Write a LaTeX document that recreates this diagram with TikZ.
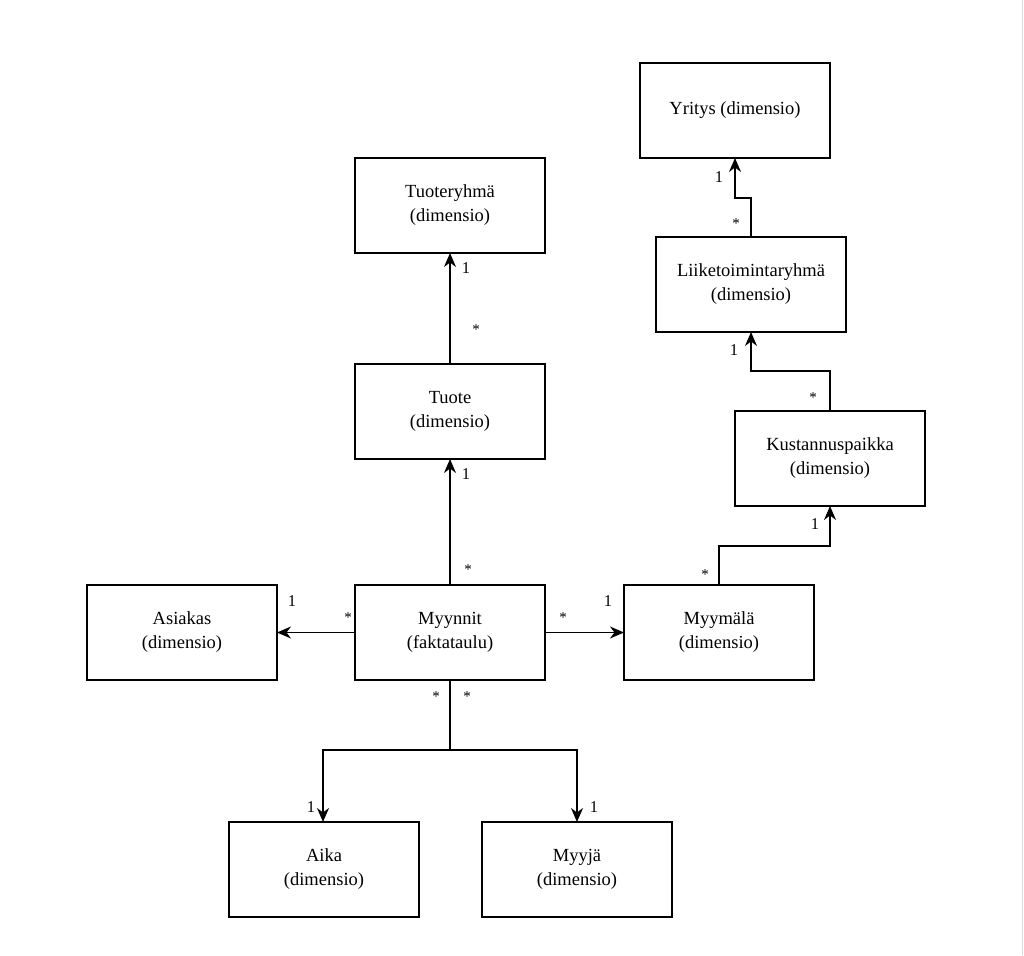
\documentclass[tikz,border=0pt]{standalone}
\usepackage{fontspec}
\setmainfont{Liberation Serif}
\usetikzlibrary{arrows.meta}
\begin{document}
\begin{tikzpicture}[x=1pt,y=-1pt,
  box/.style={draw,line width=1.6pt,minimum width=190pt,minimum height=95pt,inner sep=0pt,outer sep=0pt,align=center,font=\fontsize{18.5}{24}\selectfont,anchor=north west},
  conn/.style={line width=1.6pt,-{Stealth[length=14pt,width=12pt,inset=4.5pt]}},
  lbl/.style={font=\fontsize{16.5}{18}\selectfont,inner sep=0pt},
  star/.style={font=\fontsize{15}{16}\selectfont,inner sep=0pt}]
\useasboundingbox (0,0) rectangle (1024,955);
\fill[white] (0,0) rectangle (1024,955);
\draw[black!15,line width=1pt] (1022.5,0) -- (1022.5,955);
\node[box] (yri) at (640,63) {Yritys (dimensio)};
\node[box] (tr) at (355,158) {Tuoteryhmä\\(dimensio)};
\node[box] (lt) at (656,237) {Liiketoimintaryhmä\\(dimensio)};
\node[box] (tu) at (355,364) {Tuote\\(dimensio)};
\node[box] (ku) at (735,411) {Kustannuspaikka\\(dimensio)};
\node[box] (as) at (87,585) {Asiakas\\(dimensio)};
\node[box] (my) at (355,585) {Myynnit\\(faktataulu)};
\node[box] (mm) at (624,585) {Myymälä\\(dimensio)};
\node[box] (ai) at (229,822) {Aika\\(dimensio)};
\node[box] (mj) at (482,822) {Myyjä\\(dimensio)};
% connectors
\draw[conn] (tu.north) -- (tr.south);
\draw[conn] (my.north) -- (tu.south);
\draw[conn] (my.west) -- (as.east);
\draw[conn] (my.east) -- (mm.west);
\coordinate (split) at (my.south |- 0,750);
\draw[line width=1.6pt] (my.south) -- (split);
\draw[conn] (split) -- (323,750) -- (ai.north -| 323,0);
\draw[conn] (split) -- (577,750) -- (mj.north -| 577,0);
\coordinate (m1) at (719,546);
\draw[conn] (mm.north -| m1) -- (m1) -- (830,546) -- (ku.south -| 830,0);
\coordinate (k1) at (830,371);
\draw[conn] (ku.north -| k1) -- (k1) -- (751,371) -- (lt.south -| 751,0);
\coordinate (l1) at (751,198);
\draw[conn] (lt.north -| l1) -- (l1) -- (735,198) -- (yri.south -| 735,0);
% labels
\node[lbl] (a1) at (466,268) {1};
\node[star] (a2) at (476,330) {*};
\node[lbl] (b1) at (466,474) {1};
\node[star] (b2) at (468,570) {*};
\node[star] (c2) at (348,618) {*};
\node[lbl] (c1) at (292,601) {1};
\node[star] (d2) at (563,618) {*};
\node[lbl] (d1) at (608,601) {1};
\node[star] (e2) at (436,697) {*};
\node[star] (e3) at (467,697) {*};
\node[lbl] (e1) at (311,807) {1};
\node[lbl] (f1) at (594,807) {1};
\node[star] (g2) at (705,575) {*};
\node[lbl] (g1) at (815,524) {1};
\node[star] (h2) at (813,398) {*};
\node[lbl] (h1) at (734,350) {1};
\node[star] (i2) at (736,224) {*};
\node[lbl] (i1) at (719,177) {1};
\end{tikzpicture}
\end{document}
